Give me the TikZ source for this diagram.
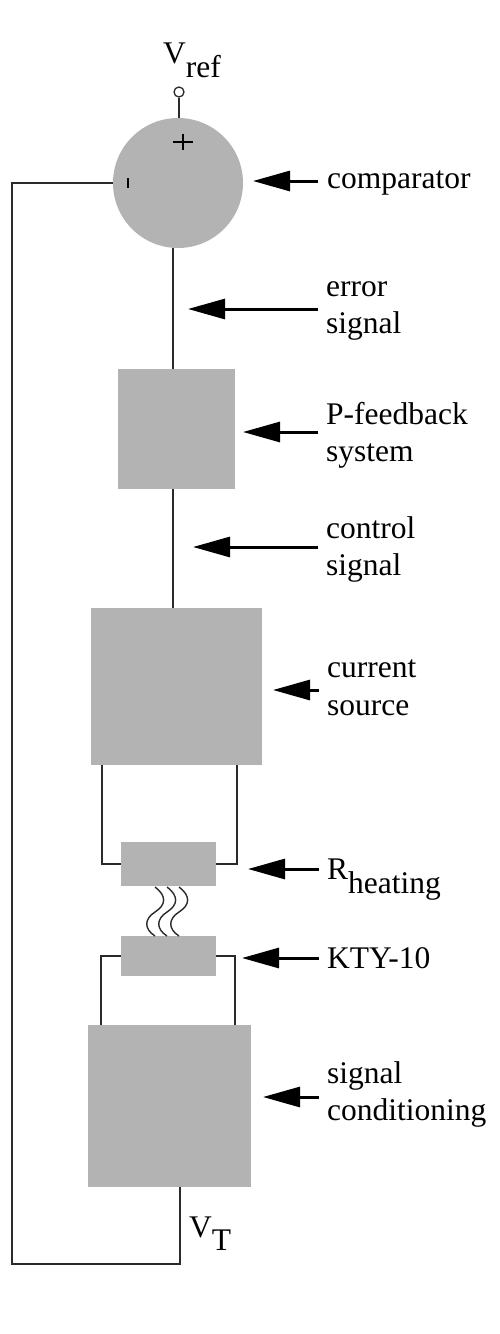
\documentclass[tikz,border=0pt]{standalone}
\usepackage{fontspec}
\setmainfont{Liberation Serif}
\usetikzlibrary{arrows.meta}
\definecolor{boxgray}{HTML}{B3B3B3}
\definecolor{wire}{HTML}{2A2A2A}
\begin{document}
\begin{tikzpicture}[x=1pt,y=-1pt,
  blk/.style={rectangle,fill=boxgray,draw=none,inner sep=0pt},
  wireline/.style={draw=wire,line width=1.4pt},
  pointer/.style={draw=black,line width=3pt,-{Triangle[length=37pt,width=20pt]}},
  lbl/.style={anchor=base west,inner sep=0pt,font=\fontsize{31.5}{37}\selectfont},
  sign/.style={draw=black,line width=1.6pt}]
\useasboundingbox (0,0) rectangle (500,1334);
\fill[white] (0,0) rectangle (500,1334);

% blocks
\node[blk,circle,minimum size=130pt] (comp) at (178,183) {};
\node[blk,minimum width=117pt,minimum height=120pt] (pfb) at (176.5,429) {};
\node[blk,minimum width=171pt,minimum height=157pt] (cs) at (176.5,686.5) {};
\node[blk,minimum width=95pt,minimum height=44pt] (rh) at (168.5,864) {};
\node[blk,minimum width=95pt,minimum height=40pt] (kty) at (168.5,956) {};
\node[blk,minimum width=163pt,minimum height=162pt] (sc) at (169.5,1106) {};

% Vref terminal
\node[circle,draw=wire,line width=1.3pt,fill=white,minimum size=10pt,inner sep=0pt] (vterm) at (179,92) {};
\draw[wireline] (vterm.south) -- (vterm.south |- comp.north);
\node[lbl] (vref) at (163,63) {V\raisebox{-14pt}{ref}};

% signs on comparator
\draw[sign] (173,142) -- (193,142) (183,134) -- (183,150);
\draw[black,line width=2.2pt] (128,178) -- (128,188);

% signal path wires
\draw[wireline] ([xshift=-5pt]comp.south) -- ([xshift=-5pt]comp.south |- pfb.north);
\draw[wireline] ([xshift=-3.5pt]pfb.south) -- ([xshift=-3.5pt]cs.north);
\draw[wireline] ([xshift=-74.5pt]cs.south) |- (rh.west);
\draw[wireline] ([xshift=60.5pt]cs.south) |- (rh.east);
\draw[wireline] ([xshift=-68.5pt]sc.north) |- (kty.west);
\draw[wireline] ([xshift=65.5pt]sc.north) |- (kty.east);

% feedback loop
\coordinate (fbl) at (12,1264);
\draw[wireline] (comp.west) -| (fbl) -| ([xshift=10.5pt]sc.south);
\node[lbl] (vt) at (189,1237) {V\raisebox{-13pt}{T}};

% heat squiggles
\foreach \x in {155,167,179}{
  \draw[wire,line width=1.4pt] (\x,887) .. controls (\x+12,896) and (\x+11,905) .. (\x,912)
     .. controls (\x-11,919) and (\x-11,929) .. (\x,936);
}

% labels
\node[lbl] (lcomp) at (327,188) {comparator};
\node[lbl] (lerr1) at (326,296) {error};
\node[lbl] (lerr2) at (326,333) {signal};
\node[lbl] (lpfb1) at (326,424) {P-feedback};
\node[lbl] (lpfb2) at (326,461) {system};
\node[lbl] (lctl1) at (326,538) {control};
\node[lbl] (lctl2) at (326,575) {signal};
\node[lbl] (lcs1) at (327,677) {current};
\node[lbl] (lcs2) at (327,715) {source};
\node[lbl] (lrh) at (327,879) {R\raisebox{-14pt}{heating}};
\node[lbl] (lkty) at (327,968) {KTY-10};
\node[lbl] (lsc1) at (327,1083) {signal};
\node[lbl] (lsc2) at (327,1120) {conditioning};

% pointer arrows
\coordinate (tcomp) at (253,181);
\coordinate (terr) at (188,309);
\coordinate (tpfb) at (243,432);
\coordinate (tctl) at (193,547);
\coordinate (tcs) at (273,690);
\coordinate (trh) at (248,869);
\coordinate (tkty) at (242,958);
\coordinate (tsc) at (263,1097);
\draw[pointer] (318,181) -- (tcomp);
\draw[pointer] (318,309) -- (terr);
\draw[pointer] (318,432) -- (tpfb);
\draw[pointer] (318,547) -- (tctl);
\draw[pointer] (319,690) -- (tcs);
\draw[pointer] (319,869) -- (trh);
\draw[pointer] (319,958) -- (tkty);
\draw[pointer] (319,1097) -- (tsc);
\end{tikzpicture}
\end{document}
